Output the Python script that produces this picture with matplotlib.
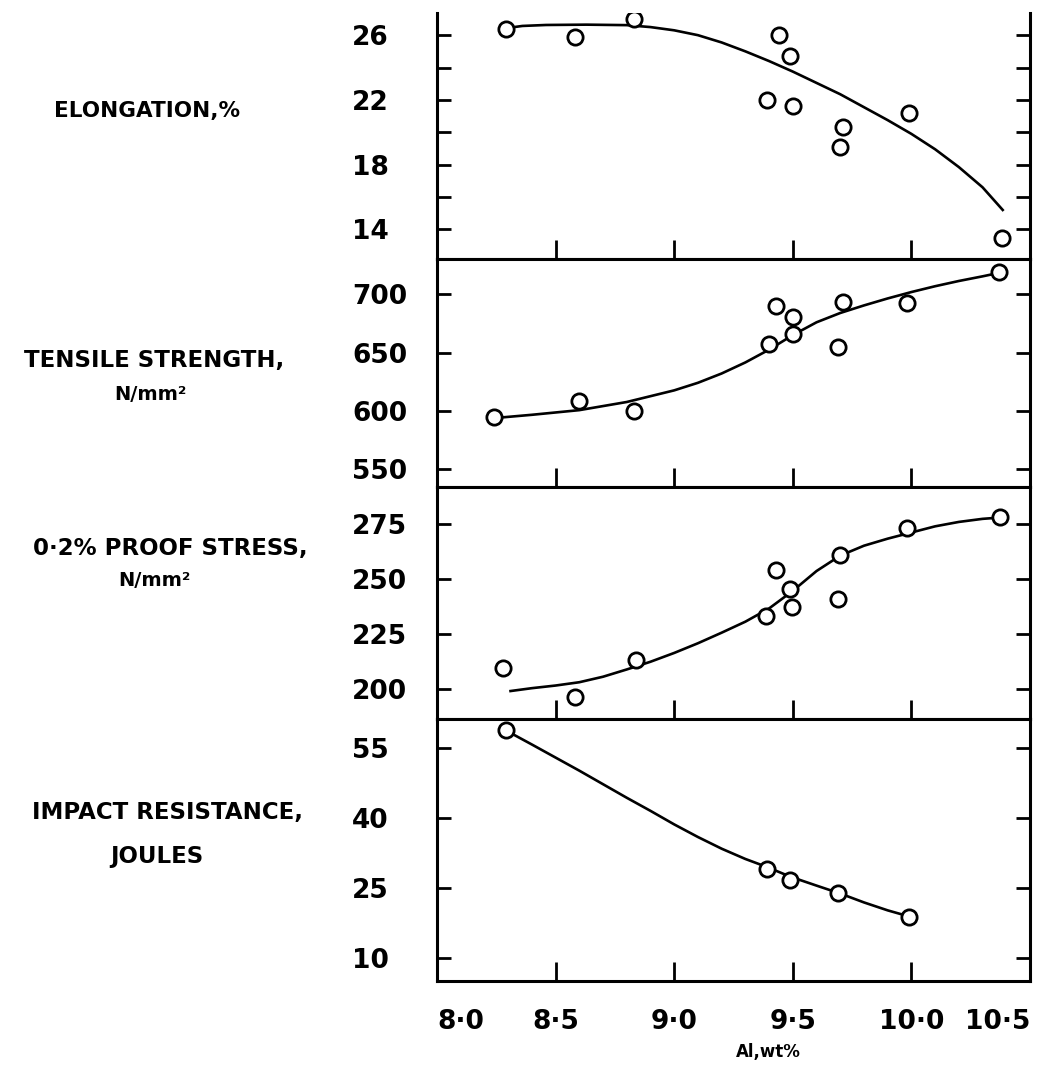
import matplotlib
matplotlib.use("Agg")
import matplotlib.pyplot as plt

plt.rcParams['font.family'] = 'DejaVu Sans'
plt.rcParams['font.weight'] = 'bold'

# x axis: Al, wt%
x_ticks = [8.0, 8.5, 9.0, 9.5, 10.0, 10.5]
x_labels = ['8·0', '8·5', '9·0', '9·5', '10·0', '10·5']

# elongation, %
el_x = [8.29, 8.58, 8.83, 9.44, 9.49, 9.39, 9.50, 9.71, 9.70, 9.99, 10.38]
el_y = [26.4, 25.9, 27.0, 26.0, 24.7, 22.0, 21.6, 20.3, 19.1, 21.2, 13.45]
el_cx = [8.29, 8.36, 8.46, 8.63, 8.80, 8.90, 9.00, 9.10, 9.20, 9.30, 9.40, 9.50,
         9.60, 9.70, 9.80, 9.90, 10.00, 10.10, 10.20, 10.30, 10.385]
el_cy = [26.43, 26.57, 26.63, 26.65, 26.62, 26.5, 26.3, 26.0, 25.55, 25.0, 24.4, 23.75,
         23.05, 22.35, 21.55, 20.75, 19.9, 18.95, 17.85, 16.6, 15.2]
el_ticks = [14, 16, 18, 20, 22, 24, 26]
el_labels = ['14', '', '18', '', '22', '', '26']

# tensile strength, N/mm2
ts_x = [8.24, 8.60, 8.83, 9.40, 9.43, 9.50, 9.50, 9.69, 9.71, 9.98, 10.37]
ts_y = [594.5, 608.7, 600.0, 657.3, 690.4, 680.6, 666.0, 655.1, 693.3, 692.7, 718.8]
ts_cx = [8.26, 8.40, 8.60, 8.80, 9.00, 9.10, 9.20, 9.30, 9.40, 9.50, 9.60, 9.70,
         9.80, 9.90, 10.00, 10.10, 10.20, 10.30, 10.37]
ts_cy = [594.0, 596.5, 600.5, 607.5, 617.5, 624.0, 632.0, 641.5, 652.5, 665.0, 676.0, 684.0,
         690.5, 696.5, 702.0, 707.0, 711.5, 715.5, 718.5]
ts_ticks = [550, 600, 650, 700]

# 0.2% proof stress, N/mm2
ps_x = [8.28, 8.58, 8.84, 9.385, 9.43, 9.49, 9.495, 9.69, 9.70, 9.98, 10.375]
ps_y = [209.3, 196.2, 213.0, 233.0, 254.1, 245.5, 237.2, 241.0, 260.6, 273.1, 277.9]
ps_cx = [8.31, 8.40, 8.50, 8.60, 8.70, 8.80, 8.90, 9.00, 9.10, 9.20, 9.30, 9.40,
         9.50, 9.60, 9.70, 9.80, 9.90, 10.00, 10.10, 10.20, 10.30, 10.40]
ps_cy = [199.0, 200.3, 201.5, 203.0, 205.5, 208.8, 212.3, 216.3, 220.7, 225.5, 230.5, 236.5,
         244.5, 253.5, 260.5, 265.0, 268.2, 271.0, 273.8, 275.8, 277.2, 278.0]
ps_ticks = [200, 225, 250, 275]

# impact resistance, joules
im_x = [8.29, 9.39, 9.49, 9.69, 9.99]
im_y = [59.0, 29.1, 26.8, 24.0, 18.8]
im_cx = [8.32, 8.40, 8.50, 8.60, 8.70, 8.80, 8.90, 9.00, 9.10, 9.20, 9.30, 9.39,
         9.49, 9.60, 9.70, 9.80, 9.90, 9.99]
im_cy = [58.0, 55.8, 53.0, 50.2, 47.3, 44.4, 41.6, 38.7, 36.0, 33.5, 31.3, 29.6,
         27.5, 25.6, 23.9, 22.0, 20.3, 19.0]
im_ticks = [10, 25, 40, 55]

W, H = 1061, 1067
fig = plt.figure(figsize=(W / 100, H / 100), dpi=100)

left = 437 / W
width = (1030 - 437) / W


def make_axes(top_px, bottom_px):
    return fig.add_axes([left, 1 - bottom_px / H, width, (bottom_px - top_px) / H])


def style(ax, ylim, yticks, ylabels=None):
    ax.set_xlim(8.0, 10.5)
    ax.set_ylim(*ylim)
    ax.set_yticks(yticks)
    if ylabels is not None:
        ax.set_yticklabels(ylabels)
    ax.tick_params(axis='y', direction='in', left=True, right=True,
                   length=10, width=2, labelsize=19, pad=61)
    ax.tick_params(axis='x', direction='in', top=False, bottom=True,
                   length=14, width=2, labelsize=19, pad=20)
    for lab in ax.get_yticklabels():
        lab.set_horizontalalignment('left')
    for s in ax.spines.values():
        s.set_linewidth(2.2)


def draw(ax, px, py, cx, cy):
    ax.plot(cx, cy, color='black', lw=1.9, zorder=2)
    ax.plot(px, py, linestyle='none', marker='o', ms=11, mfc='white',
            mec='black', mew=2, zorder=3)


ax1 = make_axes(13, 259)
ax2 = make_axes(259, 486.7)
ax3 = make_axes(486.7, 719)
ax4 = make_axes(719, 981)

draw(ax1, el_x, el_y, el_cx, el_cy)
draw(ax2, ts_x, ts_y, ts_cx, ts_cy)
draw(ax3, ps_x, ps_y, ps_cx, ps_cy)
draw(ax4, im_x, im_y, im_cx, im_cy)

style(ax1, (12.17, 27.37), el_ticks, el_labels)
style(ax2, (534.7, 730.4), ts_ticks)
style(ax3, (186.3, 291.8), ps_ticks)
style(ax4, (5.18, 61.26), im_ticks)
ax1.spines['top'].set_visible(False)

for ax in (ax1, ax2, ax3):
    ax.set_xticks(x_ticks[1:-1])
    ax.tick_params(axis='x', labelbottom=False)

ax4.set_xticks(x_ticks)
ax4.set_xticklabels(x_labels)
xl = ax4.get_xticklabels()
xl[0].set_horizontalalignment('left')
xl[-1].set_horizontalalignment('right')


def label(text, x_px, y_px, size):
    fig.text(x_px / W, 1 - y_px / H, text, ha='center', va='center',
             fontsize=size, fontweight='bold')


label('ELONGATION,%', 147, 111, 15.5)
label('TENSILE STRENGTH,', 154, 361, 16.5)
label('N/mm²', 150, 395, 14)
label('0·2% PROOF STRESS,', 170, 548, 16.5)
label('N/mm²', 154, 580, 14)
label('IMPACT RESISTANCE,', 168, 812, 16.5)
label('JOULES', 157, 857, 16.5)
label('Al,wt%', 768, 1052, 12)

fig.savefig('out.png', dpi=100)
